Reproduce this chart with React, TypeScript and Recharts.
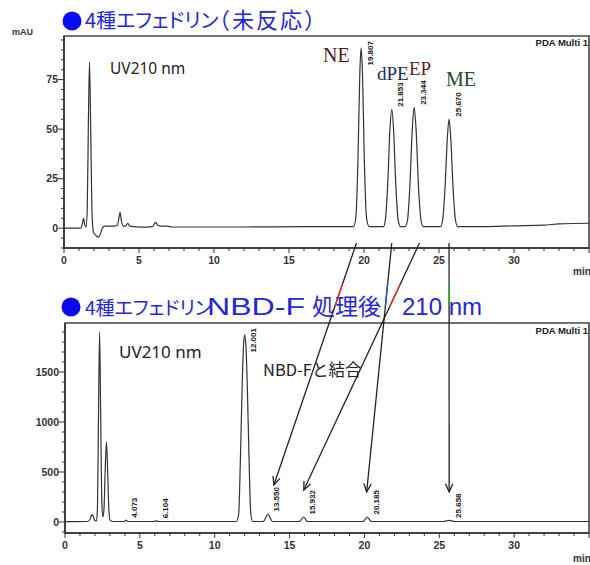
import React from "react";
import { LineChart, Line, XAxis, YAxis, ReferenceArea } from "recharts";

// 上段: 4種エフェドリン（未反応）
const topTime = [
  0, 1.1, 1.22, 1.3, 1.38, 1.46, 1.55, 1.62, 1.7, 1.78, 1.86, 1.96, 2.1, 2.3, 2.42, 2.55, 2.7, 3.3, 3.55, 3.66,
  3.74, 3.82, 3.95, 4.12, 4.25, 4.38, 5.2, 5.9, 6.05, 6.12, 6.25, 6.5, 6.9, 7.2, 12, 16, 19.3, 19.45, 19.6, 19.72,
  19.807, 19.9, 20.02, 20.17, 20.35, 21.3, 21.42, 21.58, 21.73, 21.853, 21.97, 22.12, 22.28, 22.45, 22.75, 22.9,
  23.05, 23.22, 23.344, 23.47, 23.64, 23.8, 23.95, 25.1, 25.24, 25.4, 25.56, 25.67, 25.78, 25.94, 26.1, 26.25, 28,
  30, 32, 33, 35,
];
const topSignal = [
  0, 0, 2, 5, 2, 0.5, 10, 50, 84, 50, 10, -2, -3.5, -4.5, -3, 0, 1, 1, 1.5, 5,
  8, 4, 1, 1.2, 2.5, 1, 0.5, 0.8, 2.5, 3, 1.5, 1, 1, 0.6, 0.6, 0.8, 0.8, 5, 35, 78,
  91, 78, 35, 5, 0.8, 0.8, 4, 22, 50, 60, 50, 22, 4, 0.8, 0.8, 4,
  20, 50, 61, 50, 20, 4, 0.8, 0.8, 4, 20, 46, 55, 46, 20, 4, 0.8, 0.8,
  1.2, 1.5, 2.2, 2.5,
];
const topPeakTimes = [19.807, 21.853, 23.344, 25.67];
const topPeakLabels = ["19.807", "21.853", "23.344", "25.670"];

// 下段: NBD-F処理後
const botTime = [
  0, 1.5, 1.65, 1.75, 1.82, 1.9, 2.0, 2.1, 2.17, 2.24, 2.31, 2.38, 2.45, 2.52, 2.6, 2.68, 2.77, 2.85, 2.93, 3.02,
  3.2, 3.95, 4.073, 4.2, 5.95, 6.104, 6.25, 11.45, 11.6, 11.72, 11.84, 11.93, 12.001, 12.08, 12.17, 12.29, 12.41,
  12.55, 13.25, 13.4, 13.55, 13.7, 13.85, 15.65, 15.8, 15.932, 16.06, 16.2, 19.9, 20.05, 20.185, 20.32, 20.47,
  25.3, 25.48, 25.658, 25.84, 26.0, 35,
];
const botSignal = [
  3, 5, 20, 60, 75, 50, 15, 10, 150, 1100, 1900, 1100, 250, 50, 120, 500, 800, 500, 120, 15,
  5, 5, 18, 5, 5, 12, 5, 5, 80, 650, 1400, 1780, 1870, 1780, 1400, 650, 80,
  5, 5, 40, 80, 40, 5, 5, 28, 50, 28, 5, 5, 28, 50, 28, 5,
  5, 12, 16, 12, 5, 5,
];
const botPeakTimes = [4.073, 6.104, 12.001, 13.55, 15.932, 20.185, 25.658];
const botPeakLabels = ["4.073", "6.104", "12.001", "13.550", "15.932", "20.185", "25.658"];

// 矢印 (上段の保持時間 → 下段の保持時間)
const arrowFrom = [19.5, 21.85, 23.7, 25.67];
const arrowTo = [13.95, 20.15, 15.95, 25.66];
const arrowToLevel = [370, 300, 320, 300];
const arrowColors = ["#e83030", "#3050e8", "#e83030", "#30b030"];

const xTicks = Array.from({ length: 36 }, (_, i) => i);
const topYTicks = [-10, -5, 0, 5, 10, 15, 20, 25, 30, 35, 40, 45, 50, 55, 60, 65, 70, 75, 80, 85, 90, 95];
const botYTicks = [-100, 0, 100, 200, 300, 400, 500, 600, 700, 800, 900, 1000, 1100, 1200, 1300, 1400, 1500, 1600, 1700, 1800, 1900];

const topData = topTime.map((t, i) => ({ t, v: topSignal[i] }));
const botData = botTime.map((t, i) => ({ t, v: botSignal[i] }));

const W = 590;
const TOP = { y: 0, h: 280, left: 64, right: 589, top: 36, bottom: 248, dom: [-10, 97] };
const BOT = { y: 280, h: 285, left: 65, right: 589, top: 323, bottom: 533, dom: [-110, 1990] };

const AX = "#333";
const tickFont = { fontFamily: "'Liberation Sans', Arial, sans-serif", fontWeight: 700 } as const;

const px = (p: typeof TOP, t: number) => p.left + (t / 35) * (p.right - p.left);
const py = (p: typeof TOP, v: number) => p.top + ((p.dom[1] - v) / (p.dom[1] - p.dom[0])) * (p.bottom - p.top);

const XTick = (props: any) => {
  const { x, y, payload } = props;
  const v = payload.value;
  const major = v % 5 === 0;
  return (
    <g>
      <line x1={x} x2={x} y1={y} y2={y + (major ? 5 : 3)} stroke={AX} strokeWidth={1} />
      {major && v < 35 && (
        <text x={x} y={y + 15.5} textAnchor="middle" fontSize={10.5} fill={AX} {...tickFont}>
          {v}
        </text>
      )}
    </g>
  );
};

const makeYTick = (step: number) => (props: any) => {
  const { x, y, payload } = props;
  const v = payload.value;
  const major = v % step === 0;
  return (
    <g>
      <line x1={x - (major ? 6 : 3)} x2={x} y1={y} y2={y} stroke={AX} strokeWidth={1} />
      {major && (
        <text x={x - 6} y={y + 3.8} textAnchor="end" fontSize={10.5} fill={AX} {...tickFont}>
          {v}
        </text>
      )}
    </g>
  );
};

function Chrom({ p, data, yTicks, step, ml }: { p: typeof TOP; data: { t: number; v: number }[]; yTicks: number[]; step: number; ml: number }) {
  return (
    <div style={{ position: "absolute", left: 0, top: p.y }}>
      <LineChart
        width={W}
        height={p.h}
        data={data}
        margin={{ top: p.top - p.y, right: W - p.right, bottom: p.y + p.h - p.bottom - 24, left: ml }}
      >
        <ReferenceArea x1={0} x2={35} y1={p.dom[0]} y2={p.dom[1]} fill="none" stroke="#444" strokeWidth={1.6} />
        <XAxis
          type="number"
          dataKey="t"
          domain={[0, 35]}
          ticks={xTicks}
          interval={0}
          height={24}
          tickSize={0}
          tickMargin={0}
          tickLine={false}
          tick={XTick}
          axisLine={{ stroke: AX, strokeWidth: 1.5 }}
        />
        <YAxis
          type="number"
          domain={p.dom}
          ticks={yTicks}
          interval={0}
          width={50}
          tickSize={0}
          tickMargin={0}
          tickLine={false}
          tick={makeYTick(step)}
          axisLine={{ stroke: AX, strokeWidth: 1.5 }}
        />
        <Line
          type="monotone"
          dataKey="v"
          stroke="#333"
          strokeWidth={1.2}
          dot={false}
          isAnimationActive={false}
        />
      </LineChart>
    </div>
  );
}

function PeakLabels({ p, times, labels, data }: { p: typeof TOP; times: number[]; labels: string[]; data: { t: number; v: number }[] }) {
  return (
    <>
      {times.map((t, i) => {
        const pt = data.find((d) => d.t === t);
        const h = pt ? pt.v : 0;
        const x = px(p, t) + 11.5;
        const y = Math.max(py(p, h) - 2.5, p.top + 29.5);
        return (
          <text
            key={labels[i]}
            x={x}
            y={y}
            transform={`rotate(-90 ${x} ${y})`}
            fontSize={8}
            fill="#222"
            {...tickFont}
          >
            {labels[i]}
          </text>
        );
      })}
    </>
  );
}

function Arrows() {
  const y0 = 284;
  const y1 = 306;
  return (
    <>
      {arrowFrom.map((f, i) => {
        const x1 = px(TOP, f);
        const ya = py(TOP, -7.5);
        const x2 = px(BOT, arrowTo[i]);
        const yb = py(BOT, arrowToLevel[i]);
        const at = (yy: number) => x1 + ((yy - ya) / (yb - ya)) * (x2 - x1);
        const ang = Math.atan2(yb - ya, x2 - x1);
        const L = 9;
        const a1 = ang + Math.PI - 0.42;
        const a2 = ang + Math.PI + 0.42;
        return (
          <g key={i}>
            <line x1={x1} y1={ya} x2={x2} y2={yb} stroke="#222" strokeWidth={1.3} />
            <line x1={at(y0)} y1={y0} x2={at(y1)} y2={y1} stroke={arrowColors[i]} strokeWidth={1.4} />
            <polyline
              points={`${x2 + L * Math.cos(a1)},${yb + L * Math.sin(a1)} ${x2},${yb} ${x2 + L * Math.cos(a2)},${yb + L * Math.sin(a2)}`}
              fill="none"
              stroke="#222"
              strokeWidth={1.3}
            />
          </g>
        );
      })}
    </>
  );
}

export default function App() {
  const jp = "'Noto Sans CJK JP', 'Noto Sans', sans-serif";
  const latin = "'Liberation Sans', Arial, sans-serif";
  const serif = "'Liberation Serif', 'DejaVu Serif', serif";
  const blue = "#2626d6";
  const palt = { fontFeatureSettings: '"palt"' };
  return (
    <div style={{ position: "absolute", left: 0, top: 0, width: W, height: 565, background: "#fff", overflow: "hidden" }}>
      <Chrom p={TOP} data={topData} yTicks={topYTicks} step={25} ml={14} />
      <Chrom p={BOT} data={botData} yTicks={botYTicks} step={500} ml={15} />
      <svg width={W} height={565} style={{ position: "absolute", left: 0, top: 0, pointerEvents: "none" }}>
        {/* 見出し */}
        <circle cx={72} cy={21} r={9.5} fill="#0a0af0" />
        <text x={85} y={28} fontSize={20} fill={blue} fontFamily={jp} style={palt}>
          4種エフェドリン
        </text>
        <text x={208} y={28} fontSize={22} fill={blue} fontFamily={jp} textLength={118} lengthAdjust="spacing">
          （未反応）
        </text>
        <circle cx={71} cy={307} r={9.5} fill="#0a0af0" />
        <text x={85} y={315} fontSize={19} fill={blue} fontFamily={jp} style={palt}>
          4種エフェドリン
        </text>
        <text x={207} y={315} fontSize={23} fill={blue} fontFamily={latin} textLength={98} lengthAdjust="spacingAndGlyphs">
          NBD-F
        </text>
        <text x={312} y={315} fontSize={23} fill={blue} fontFamily={jp}>
          処理後
        </text>
        <text x={402} y={315} fontSize={24} fill={blue} fontFamily={latin}>
          210 nm
        </text>

        <text x={12} y={35} fontSize={9} fill="#333" {...tickFont}>mAU</text>
        <text x={573} y={275} fontSize={10} fill="#333" {...tickFont}>min</text>
        <text x={573} y={562} fontSize={10} fill="#333" {...tickFont}>min</text>
        <text x={588} y={46} fontSize={9.5} textAnchor="end" fill="#222" {...tickFont}>PDA Multi 1</text>
        <text x={588} y={334} fontSize={9.5} textAnchor="end" fill="#222" {...tickFont}>PDA Multi 1</text>

        <text x={110} y={74} fontSize={15.5} fill="#222" fontFamily="'Noto Sans', sans-serif">UV210 nm</text>
        <text x={119} y={358} fontSize={17} fill="#222" fontFamily="'Noto Sans', sans-serif">UV210 nm</text>
        <text x={263} y={376} fontSize={16.5} fill="#222" fontFamily={jp}>NBD-Fと結合</text>

        <text x={323} y={62} fontSize={20} fill="#5a1c1c" fontFamily={serif}>NE</text>
        <text x={377} y={80} fontSize={19} fill="#1e2a5c" fontFamily={serif}>dPE</text>
        <text x={409} y={75} fontSize={19} fill="#6a1e22" fontFamily={serif}>EP</text>
        <text x={446} y={86} fontSize={20} fill="#284a2a" fontFamily={serif}>ME</text>

        <PeakLabels p={TOP} times={topPeakTimes} labels={topPeakLabels} data={topData} />
        <PeakLabels p={BOT} times={botPeakTimes} labels={botPeakLabels} data={botData} />
        <Arrows />
      </svg>
    </div>
  );
}
